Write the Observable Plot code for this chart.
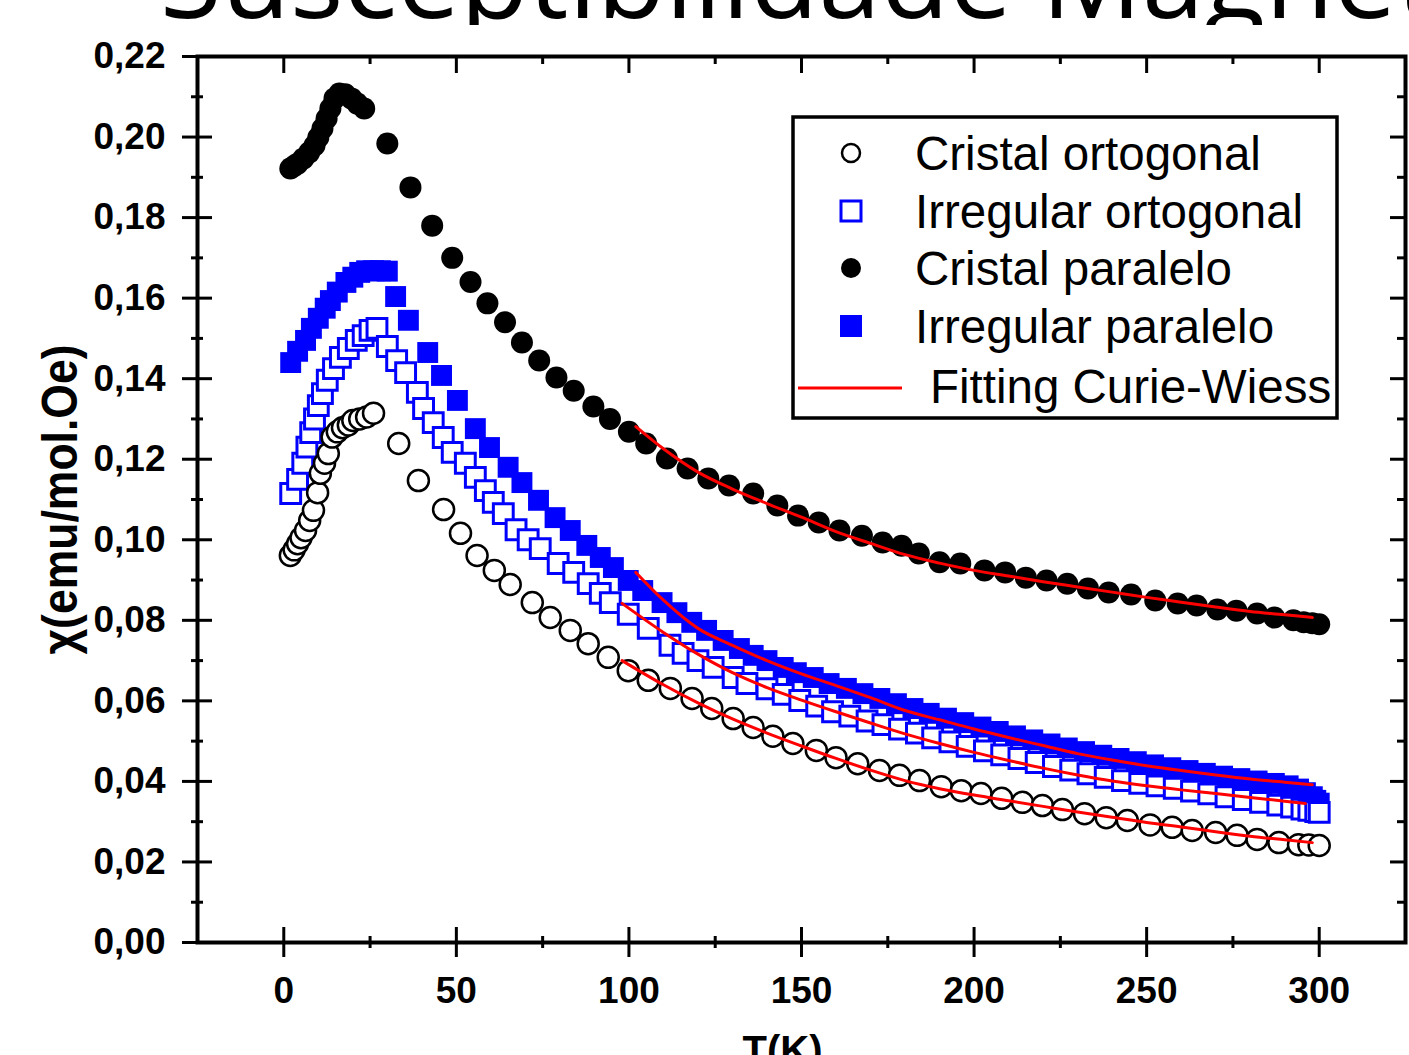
<!DOCTYPE html>
<html><head><meta charset="utf-8">
<script src="https://cdn.jsdelivr.net/npm/d3@7"></script>
<script src="https://cdn.jsdelivr.net/npm/@observablehq/plot@0.6"></script>
<style>
html,body{margin:0;padding:0;background:#fff;}
#wrap{position:relative;width:1409px;height:1055px;overflow:hidden;background:#fff;}
#title{position:absolute;left:0;top:0;width:1409px;height:25px;overflow:hidden;}
#chart{position:absolute;left:0;top:25px;}
</style></head><body>
<div id="wrap">
<div id="title"><svg width="1409" height="25"><text x="160" y="18" font-family="'Open Sans', sans-serif" font-size="112" fill="#000">Susceptibilidade Magnética</text></svg></div>
<div id="chart"></div>
</div>
<script>
// ---- data (T in K, chi in emu/mol.Oe) ----
const cristalOrtogonal = [[1.9,0.0961],[3,0.0975],[4,0.0990],[5,0.1005],[6.3,0.1023],[7.5,0.1048],[8.6,0.1073],[9.8,0.1117],[10.6,0.1165],[11.8,0.1190],[12.9,0.1214],[14,0.1255],[15.5,0.1268],[17,0.1278],[18.7,0.1285],[20,0.1296],[22,0.1300],[24,0.1305],[26,0.1314],[33.3,0.1239],[39,0.1147],[46.3,0.1075],[51.2,0.1016],[56,0.0961],[61,0.0924],[65.6,0.0889],[72,0.0844],[77.2,0.0807],[83,0.0775],[88.2,0.0742],[94,0.0708],[99.8,0.0675],[105.6,0.0651],[112,0.0631],[118.3,0.0606],[124,0.0581],[130.2,0.0556],[136,0.0534],[141.7,0.0512],[147.5,0.0494],[154.3,0.0477],[160,0.0459],[166.3,0.0444],[172.6,0.0427],[178.4,0.0415],[184.2,0.0402],[190.5,0.0387],[196.3,0.0377],[202,0.0370],[208,0.0358],[214,0.0348],[219.8,0.0340],[225.6,0.0330],[232,0.0320],[238.3,0.0310],[244.4,0.0303],[251,0.0292],[257.4,0.0286],[263.2,0.0278],[270,0.0273],[276.2,0.0266],[282,0.0256],[288.3,0.0248],[294,0.0243],[297,0.0242],[300,0.0241]];
const irregularOrtogonal = [[2,0.1115],[4,0.115],[5.5,0.119],[6.7,0.123],[7.8,0.1266],[8.9,0.130],[10,0.1333],[11.2,0.1363],[12.6,0.1396],[14.4,0.1425],[16.4,0.1453],[18.7,0.1475],[21,0.1495],[23,0.1507],[25,0.152],[27,0.1525],[30,0.148],[32.7,0.1445],[35.3,0.1415],[38.7,0.1366],[40.5,0.1326],[43.3,0.1291],[46.2,0.1254],[48.8,0.1217],[52.6,0.119],[55.5,0.1155],[58.4,0.1122],[60.7,0.1093],[63.6,0.1065],[67.3,0.1025],[70.8,0.1000],[74.3,0.0978],[79.5,0.0941],[84,0.0919],[88.2,0.0891],[91.7,0.0867],[94.6,0.0844],[99.8,0.0815],[105.6,0.078],[111.9,0.0738],[115.7,0.0718],[120,0.0700],[124.4,0.0683],[130.2,0.0658],[134.2,0.0643],[140,0.0630],[144.7,0.0616],[149.5,0.0601],[154.4,0.0587],[159,0.0573],[164,0.0562],[169,0.0550],[173.6,0.0541],[178.4,0.0530],[183.3,0.0520],[188,0.0508],[193,0.0498],[198,0.0487],[203,0.0476],[208,0.0466],[213,0.0457],[218,0.0447],[223,0.0437],[228,0.0428],[233,0.0419],[238,0.0410],[243,0.0402],[248,0.0395],[253,0.0389],[258,0.0383],[263,0.0376],[268,0.0369],[273,0.0362],[278,0.0355],[283,0.0348],[288,0.0341],[292,0.0336],[295,0.0331],[297,0.0328],[299,0.0325],[300,0.0323]];
const cristalParalelo = [[1.9,0.1922],[3,0.1928],[4,0.1934],[5.7,0.1947],[7.4,0.1962],[8.9,0.1979],[10,0.1999],[11.2,0.2021],[12.4,0.2046],[13.5,0.2071],[14.7,0.2096],[16.1,0.2108],[17.8,0.2106],[19.6,0.2096],[21.3,0.2083],[23.3,0.2071],[30,0.1984],[36.7,0.1875],[43,0.178],[48.8,0.170],[54.1,0.164],[59,0.1587],[64.1,0.154],[69,0.149],[74,0.1445],[79,0.1403],[84,0.137],[89.7,0.1331],[94.5,0.130],[100,0.1268],[105,0.1239],[111,0.1202],[117,0.1177],[123,0.1152],[129,0.1135],[136,0.1115],[143,0.1085],[149,0.106],[155,0.1043],[161,0.1023],[167.5,0.101],[173.5,0.0993],[179,0.0985],[184,0.0966],[190,0.0944],[196,0.0941],[203,0.0924],[209,0.0919],[215,0.0906],[221,0.0899],[227,0.0891],[233,0.0879],[239,0.0869],[245.5,0.0864],[252.5,0.0849],[259,0.0842],[264.5,0.0837],[270.5,0.0827],[276,0.0824],[282,0.0817],[287,0.0807],[292.5,0.0800],[295.5,0.0795],[298,0.0793],[300,0.0790]];
const irregularParalelo = [[2,0.144],[4,0.1468],[6.3,0.1495],[8,0.1525],[10,0.155],[12,0.1575],[13.5,0.1594],[15.5,0.1615],[18,0.1639],[20,0.1652],[22,0.1664],[24,0.1668],[26,0.1668],[28,0.1668],[30,0.1667],[32.4,0.1604],[36.1,0.1545],[41.7,0.1465],[45.7,0.1408],[50.3,0.1346],[55.5,0.1276],[59.6,0.1229],[65,0.118],[69,0.1142],[73.8,0.1098],[78.6,0.1055],[83,0.1023],[87.8,0.0986],[91.7,0.0956],[95.5,0.0931],[99.8,0.0899],[104,0.0874],[109.6,0.0844],[113.9,0.0819],[118.2,0.0795],[122.5,0.0775],[127.3,0.075],[132,0.073],[136,0.0713],[140,0.070],[144.7,0.0683],[148.5,0.067],[153.4,0.0658],[158,0.0643],[163,0.0631],[167.8,0.0618],[172.7,0.0606],[177.5,0.0593],[182.3,0.0581],[187,0.0569],[192,0.0557],[197,0.0546],[202,0.0535],[207,0.0524],[212,0.0513],[217,0.0503],[222,0.0493],[227,0.0483],[232,0.0474],[237,0.0465],[242,0.0457],[247,0.0449],[252,0.0441],[257,0.0434],[262,0.0427],[267,0.0420],[272,0.0413],[277,0.0407],[282,0.0401],[287,0.0395],[291,0.0389],[294,0.0381],[296,0.0372],[298,0.0362],[299,0.0353],[300,0.0346]];
// Curie-Weiss fitting curves
const fitCristalOrtogonal = [[98,0.0700],[110,0.0640],[120,0.0595],[130,0.0555],[140,0.0520],[150,0.0488],[160,0.0457],[170,0.0428],[180,0.0402],[190,0.0382],[200,0.0366],[210,0.0352],[220,0.0338],[230,0.0324],[240,0.0311],[250,0.0298],[260,0.0287],[270,0.0275],[280,0.0264],[290,0.0255],[298,0.0248]];
const fitIrregularOrtogonal = [[98,0.0842],[110,0.0770],[120,0.0716],[130,0.0670],[140,0.0633],[150,0.0602],[160,0.0573],[170,0.0545],[180,0.0518],[190,0.0494],[200,0.0472],[210,0.0452],[220,0.0433],[230,0.0416],[240,0.0401],[250,0.0389],[260,0.0379],[270,0.0370],[280,0.0360],[290,0.0351],[296,0.0345]];
const fitCristalParalelo = [[102,0.1281],[110,0.1226],[120,0.1168],[130,0.1126],[140,0.1090],[150,0.1056],[160,0.1020],[170,0.0991],[180,0.0963],[190,0.0942],[200,0.0924],[210,0.0910],[220,0.0896],[230,0.0883],[240,0.0870],[250,0.0857],[260,0.0845],[270,0.0833],[280,0.0822],[290,0.0814],[298,0.0807]];
const fitIrregularParalelo = [[102,0.0919],[110,0.0850],[120,0.0780],[130,0.0738],[140,0.0700],[150,0.0667],[160,0.0638],[170,0.0608],[180,0.0576],[190,0.0553],[200,0.0530],[210,0.0509],[220,0.0489],[230,0.0469],[240,0.0453],[250,0.0439],[260,0.0427],[270,0.0416],[280,0.0406],[290,0.0398],[298,0.0392]];
// ticks and labels
const xMajor = [0,50,100,150,200,250,300];
const xMinor = [25,75,125,175,225,275];
const yMajor = [0,0.02,0.04,0.06,0.08,0.10,0.12,0.14,0.16,0.18,0.20,0.22];
const yMinor = [0.01,0.03,0.05,0.07,0.09,0.11,0.13,0.15,0.17,0.19,0.21];
const xLabel = "T(K)";
const yLabel = "\u03C7(emu/mol.Oe)";
const legendLabels = ["Cristal ortogonal","Irregular ortogonal","Cristal paralelo","Irregular paralelo","Fitting Curie-Wiess"];

const W=1409,H=1030,ML=197,MR=4,MT=31,MB=113;
const FW=W-ML-MR, FH=H-MT-MB;
const FONT="'Liberation Sans', Arial, sans-serif";
const fmtY = d => d.toFixed(2).replace(".", ",");
const rows = a => a.map(([T,chi]) => ({T, chi}));

const chart = Plot.plot({
  width:W, height:H, marginLeft:ML, marginRight:MR, marginTop:MT, marginBottom:MB,
  style:{background:"white", fontFamily:FONT, color:"black"},
  x:{domain:[-25,325], axis:null},
  y:{domain:[0,0.22], axis:null},
  marks:[
    Plot.dot(rows(irregularParalelo),{x:"T",y:"chi",symbol:"square",r:11.8,fill:"#0000ff",stroke:"none"}),
    Plot.dot(rows(irregularOrtogonal),{x:"T",y:"chi",symbol:"square",r:11.2,fill:"white",stroke:"#0000ff",strokeWidth:3}),
    Plot.dot(rows(cristalParalelo),{x:"T",y:"chi",symbol:"circle",r:11,fill:"black",stroke:"none"}),
    Plot.dot(rows(cristalOrtogonal),{x:"T",y:"chi",symbol:"circle",r:10.5,fill:"white",stroke:"black",strokeWidth:2.5}),
    Plot.line(rows(fitCristalParalelo),{x:"T",y:"chi",stroke:"#ff0000",strokeWidth:3,curve:"monotone-x"}),
    Plot.line(rows(fitIrregularParalelo),{x:"T",y:"chi",stroke:"#ff0000",strokeWidth:3,curve:"monotone-x"}),
    Plot.line(rows(fitIrregularOrtogonal),{x:"T",y:"chi",stroke:"#ff0000",strokeWidth:3,curve:"monotone-x"}),
    Plot.line(rows(fitCristalOrtogonal),{x:"T",y:"chi",stroke:"#ff0000",strokeWidth:3,curve:"monotone-x"}),
    // ticks: bottom (crossing), top (inward), left (crossing), right (inward)
    Plot.tickX(xMajor,{x:d=>d, insetTop:FH-15, insetBottom:-15, stroke:"black", strokeWidth:3}),
    Plot.tickX(xMinor,{x:d=>d, insetTop:FH-6, insetBottom:-6, stroke:"black", strokeWidth:3}),
    Plot.tickX(xMajor,{x:d=>d, insetTop:0, insetBottom:FH-17, stroke:"black", strokeWidth:3}),
    Plot.tickX(xMinor,{x:d=>d, insetTop:0, insetBottom:FH-8, stroke:"black", strokeWidth:3}),
    Plot.tickY(yMajor,{y:d=>d, insetLeft:-15, insetRight:FW-15, stroke:"black", strokeWidth:3}),
    Plot.tickY(yMinor,{y:d=>d, insetLeft:-6, insetRight:FW-6, stroke:"black", strokeWidth:3}),
    Plot.tickY(yMajor,{y:d=>d, insetLeft:FW-15, insetRight:0, stroke:"black", strokeWidth:3}),
    Plot.tickY(yMinor,{y:d=>d, insetLeft:FW-8, insetRight:0, stroke:"black", strokeWidth:3}),
    Plot.text(xMajor,{x:d=>d, frameAnchor:"bottom", dy:60, text:d=>String(d), fontSize:37, fontWeight:"bold", fill:"black"}),
    Plot.text(yMajor,{y:d=>d, frameAnchor:"left", dx:-32, textAnchor:"end", text:fmtY, fontSize:37, fontWeight:"bold", fill:"black"}),
    Plot.text([yLabel],{frameAnchor:"left", dx:-137, rotate:-90, textAnchor:"middle", text:d=>d, fontSize:50, fontWeight:"bold", fill:"black"}),
    Plot.text([xLabel],{frameAnchor:"bottom", dx:-19, dy:93, lineAnchor:"top", textAnchor:"middle", text:d=>d, fontSize:40, fontWeight:"bold", fill:"black"}),
    Plot.frame({stroke:"black", strokeWidth:4})
  ]
});
document.getElementById("chart").appendChild(chart);

const svg = d3.select(chart);
// narrow the y title like the reference's condensed lettering
svg.selectAll("text").filter(function(){ return this.textContent === yLabel; })
  .attr("textLength", 310).attr("lengthAdjust", "spacingAndGlyphs");

// legend inside the frame
const lg = svg.append("g").attr("font-family", FONT).attr("font-size", 47.5)
  .attr("fill","black").attr("text-anchor","start");
lg.append("rect").attr("x",793).attr("y",92).attr("width",544).attr("height",301)
  .attr("fill","white").attr("stroke","black").attr("stroke-width",3.5);
const rowY = [128,186,243,301,361];
const symX = 851;
lg.append("circle").attr("cx",symX).attr("cy",rowY[0]).attr("r",9).attr("fill","white").attr("stroke","black").attr("stroke-width",2.5);
lg.append("rect").attr("x",symX-10).attr("y",rowY[1]-10).attr("width",20).attr("height",20).attr("fill","white").attr("stroke","#0000ff").attr("stroke-width",3);
lg.append("circle").attr("cx",symX).attr("cy",rowY[2]).attr("r",10).attr("fill","black");
lg.append("rect").attr("x",symX-11).attr("y",rowY[3]-11).attr("width",22).attr("height",22).attr("fill","#0000ff");
lg.append("line").attr("x1",798).attr("x2",902).attr("y1",rowY[4]+2).attr("y2",rowY[4]+2).attr("stroke","#ff0000").attr("stroke-width",3);
legendLabels.forEach((t,i) => {
  lg.append("text").attr("x", i===4 ? 930 : 915).attr("y", rowY[i]+17).attr("text-anchor","start").text(t);
});
</script>
</body></html>
